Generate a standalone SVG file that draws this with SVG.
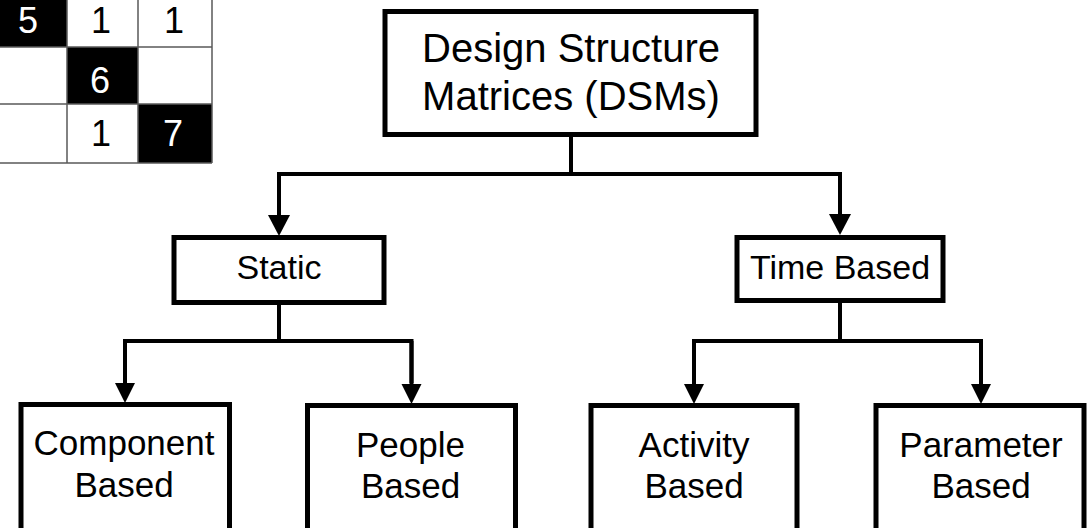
<svg xmlns="http://www.w3.org/2000/svg" width="1088" height="528" viewBox="0 0 1088 528">
  <style>
    .box { fill: #ffffff; stroke: #000000; stroke-width: 5; }
    .lbl { font-family: "Liberation Sans", Arial, sans-serif; fill: #000000; text-anchor: middle; }
    .big { font-size: 40px; }
    .mid { font-size: 34px; }
    .sm { font-size: 35px; }
    .conn { fill: none; stroke: #000000; stroke-width: 4; stroke-linejoin: miter; }
    .grid { stroke: #5a5a5a; stroke-width: 1.5; fill: none; }
    .cellk { fill: #000000; }
    .dig { font-family: "Liberation Sans", Arial, sans-serif; font-size: 36px; text-anchor: middle; }
  </style>
  <defs>
    <marker id="ah" markerUnits="userSpaceOnUse" markerWidth="24" markerHeight="24" viewBox="0 -12 22 24" refX="0" refY="0" orient="auto" overflow="visible">
      <path d="M0,-11 L21,0 L0,11 Z" fill="#000000"/>
    </marker>
    <marker id="ah2" markerUnits="userSpaceOnUse" markerWidth="24" markerHeight="24" viewBox="0 -12 22 24" refX="0" refY="0" orient="auto" overflow="visible">
      <path d="M0,-10 L20,0 L0,10 Z" fill="#000000"/>
    </marker>
  </defs>
  <rect x="0" y="0" width="1088" height="528" fill="#ffffff"/>

  <g id="matrix">
    <rect class="cellk" x="0" y="0" width="67" height="47"/>
    <rect class="cellk" x="67" y="47" width="71" height="57"/>
    <rect class="cellk" x="138" y="104" width="74" height="59"/>
    <path class="grid" d="M67 0 V163 M138 0 V163 M212 0 V163 M0 47 H212 M0 104 H212 M0 163 H212"/>
    <text class="dig" x="28" y="33" fill="#ffffff">5</text>
    <text class="dig" x="101" y="33" fill="#000000">1</text>
    <text class="dig" x="174" y="33" fill="#000000">1</text>
    <text class="dig" x="100" y="93" fill="#ffffff">6</text>
    <text class="dig" x="101" y="146" fill="#000000">1</text>
    <text class="dig" x="173" y="146" fill="#ffffff">7</text>
  </g>

  <g id="connectors">
    <path class="conn" stroke-width="3.5" d="M571 134 V174"/>
    <path class="conn" d="M279 216 V174 H840 V216"/>
    <path class="conn" d="M279 174 V215" marker-end="url(#ah)"/>
    <path class="conn" d="M840 174 V214" marker-end="url(#ah)"/>
    <path class="conn" d="M279 303 V341"/>
    <path class="conn" d="M125 383 V341 H411.5 V383"/>
    <path class="conn" d="M125 341 V383" marker-end="url(#ah2)"/>
    <path class="conn" d="M411.5 341 V384" marker-end="url(#ah2)"/>
    <path class="conn" d="M840 301 V341"/>
    <path class="conn" d="M694 383 V341 H981 V383"/>
    <path class="conn" d="M694 341 V384" marker-end="url(#ah2)"/>
    <path class="conn" d="M981 341 V384" marker-end="url(#ah2)"/>
  </g>

  <g id="node-dsm">
    <rect class="box" stroke-width="4.5" x="385" y="11.5" width="371" height="123"/>
    <text class="lbl big" x="571" y="62">Design Structure</text>
    <text class="lbl big" x="571" y="110">Matrices (DSMs)</text>
  </g>

  <g id="node-static">
    <rect class="box" x="174" y="237.5" width="210" height="65"/>
    <text class="lbl mid" x="279" y="279">Static</text>
  </g>

  <g id="node-time">
    <rect class="box" x="737" y="237.5" width="206" height="63"/>
    <text class="lbl mid" x="840" y="279">Time Based</text>
  </g>

  <g id="node-component">
    <rect class="box" x="21" y="404.5" width="208.5" height="140"/>
    <text class="lbl sm" x="124" y="455">Component</text>
    <text class="lbl sm" x="124" y="497">Based</text>
  </g>

  <g id="node-people">
    <rect class="box" x="307.5" y="405.5" width="208" height="140"/>
    <text class="lbl sm" x="410.5" y="457">People</text>
    <text class="lbl sm" x="410.5" y="498">Based</text>
  </g>

  <g id="node-activity">
    <rect class="box" x="591" y="405.5" width="206" height="140"/>
    <text class="lbl sm" x="694" y="457">Activity</text>
    <text class="lbl sm" x="694" y="498">Based</text>
  </g>

  <g id="node-parameter">
    <rect class="box" x="876" y="405.5" width="208" height="140"/>
    <text class="lbl sm" x="981" y="457">Parameter</text>
    <text class="lbl sm" x="981" y="498">Based</text>
  </g>
</svg>
